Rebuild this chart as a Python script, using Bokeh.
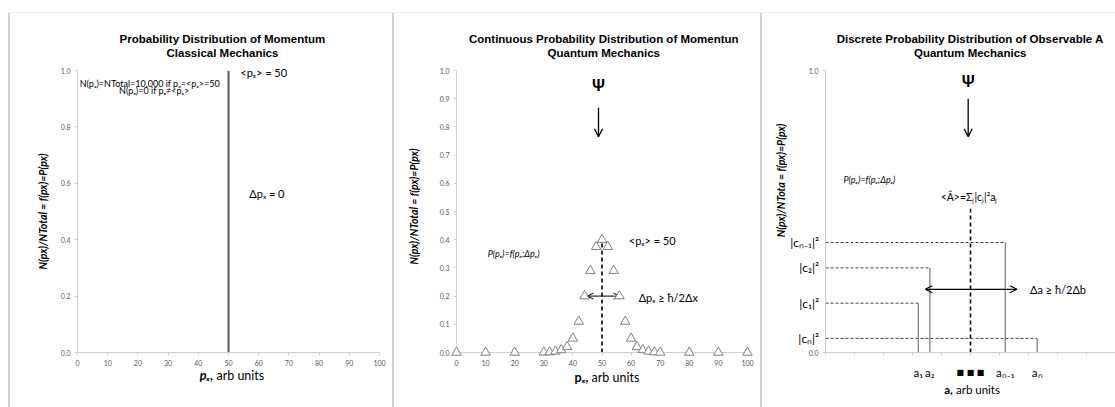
from math import pi
from bokeh.plotting import figure
from bokeh.layouts import row
from bokeh.core.properties import value
from bokeh.models import (Range1d, FixedTicker, PrintfTickFormatter,
                          Arrow, OpenHead, ColumnDataSource)
from bokeh.embed import file_html
from bokeh.resources import INLINE

# ---------------- data ----------------
# Panel 1: classical
p1_x_ticks = [0, 10, 20, 30, 40, 50, 60, 70, 80, 90, 100]
p1_y_ticks = [0.0, 0.2, 0.4, 0.6, 0.8, 1.0]
classical_px = [50]
classical_prob = [1.0]

# Panel 2: continuous quantum distribution
p2_x_ticks = [0, 10, 20, 30, 40, 50, 60, 70, 80, 90, 100]
p2_y_ticks = [0.0, 0.1, 0.2, 0.3, 0.4, 0.5, 0.6, 0.7, 0.8, 0.9, 1.0]
quantum_px = [0, 10, 20, 30, 32, 34, 36, 38, 40, 42, 44, 46, 48, 50,
              52, 54, 56, 58, 60, 62, 64, 66, 68, 70, 80, 90, 100]
quantum_prob = [0, 0, 0, 0.0005, 0.0015, 0.004, 0.009, 0.02, 0.05, 0.11, 0.20, 0.29, 0.375, 0.40,
                0.375, 0.29, 0.20, 0.11, 0.05, 0.02, 0.009, 0.004, 0.0015, 0.0005, 0, 0, 0]
mean_px = 50

# Panel 3: discrete observable
p3_x_ticks = [0, 10, 20, 30, 40, 50, 60, 70, 80, 90, 100]
p3_y_ticks = [0.0, 1.0]
a_labels = ["a₁", "a₂", "aₙ₋₁", "aₙ"]
a_values = [32, 36, 62, 73]
c_labels = ["|c₁|²", "|c₂|²", "|cₙ₋₁|²", "|cₙ|²"]
c_sq = [0.175, 0.30, 0.39, 0.05]
mean_a = 50
mean_a_height = 0.51

# ---------------- styling helpers ----------------
H = 407
TOP, BOTTOM = 70, 55
FONT = "Lato"
TFONT = "Liberation Sans"
TICK_COLOR = "#595959"
AXIS_COLOR = "#d0d0d0"


def make_fig(width, left, right, left_line_x):
    p = figure(width=width, height=H, x_range=Range1d(0, 100), y_range=Range1d(0, 1.0),
               output_backend="svg", toolbar_location=None, title=None,
               min_border_left=left, min_border_right=right,
               min_border_top=TOP, min_border_bottom=BOTTOM)
    p.border_fill_color = None
    p.background_fill_color = None
    p.outline_line_color = None
    p.styles = {
        "background": f"linear-gradient(#ececec, #ececec) {left_line_x}px 12px / 100% 1px no-repeat, "
                      f"linear-gradient(#d2d2d2, #d2d2d2) {left_line_x}px 12px / 2px 100% no-repeat, white"
    }
    p.grid.visible = False
    return p


def style_axes(p):
    for ax in p.axis:
        ax.axis_line_color = AXIS_COLOR
        ax.major_tick_line_color = AXIS_COLOR
        ax.major_tick_in = 0
        ax.major_tick_out = 3
        ax.minor_tick_line_color = None
        ax.major_label_text_font = FONT
        ax.major_label_text_font_size = "7px"
        ax.major_label_text_color = TICK_COLOR
        ax.major_label_standoff = 4


def txt(p, x, y, text, size="11px", style="normal", align="left", font=FONT,
        angle=0, color="#000000"):
    # text glyph at overlay level so it may sit outside the frame
    p.text(x=[x], y=[y], text=[text], text_font=value(font), text_font_size=value(size),
           text_font_style=style, text_align=align, text_baseline="middle", angle=angle,
           text_color=color, level="overlay")


def titles(p, x, l1, l2):
    txt(p, x, 1.112, l1, size="11.5px", style="bold", align="center", font=TFONT)
    txt(p, x, 1.062, l2, size="11.5px", style="bold", align="center", font=TFONT)


YLABEL = "N(px)/NTotal = f(px)=P(px)"

# ---------------- panel 1 ----------------
p1 = make_fig(392, 77, 13, 8)
p1.xaxis.ticker = FixedTicker(ticks=p1_x_ticks)
p1.yaxis.ticker = FixedTicker(ticks=p1_y_ticks)
p1.yaxis.formatter = PrintfTickFormatter(format="%.1f")
style_axes(p1)
p1.segment(x0=classical_px, y0=[0], x1=classical_px, y1=classical_prob,
           line_color="#595959", line_width=2)
titles(p1, 48, "Probability Distribution of Momentum", "Classical Mechanics")
txt(p1, 53.9, 0.993, "<pₓ> = 50", size="11px")
txt(p1, 24.3, 0.954, "N(pₓ)=NTotal=10,000  if pₓ=<pₓ>=50", size="9px", align="center")
txt(p1, 25.8, 0.928, "N(pₓ)=0  if pₓ≠<pₓ>", size="9px", align="center")
txt(p1, 56.9, 0.564, "Δpₓ = 0", size="11px")
txt(p1, -11.3, 0.5, YLABEL, size="10.5px", style="bold italic", align="center", angle=pi / 2)
txt(p1, 44.9, -0.082, "pₓ,", size="12.5px", style="bold italic", align="right")
txt(p1, 46.0, -0.082, "arb units", size="12.5px")

# ---------------- panel 2 ----------------
p2 = make_fig(368, 64, 13, 0)
p2.xaxis.ticker = FixedTicker(ticks=p2_x_ticks)
p2.yaxis.ticker = FixedTicker(ticks=p2_y_ticks)
p2.yaxis.formatter = PrintfTickFormatter(format="%.1f")
style_axes(p2)
p2.segment(x0=[mean_px], y0=[0], x1=[mean_px], y1=[0.41], line_color="#000000",
           line_width=1.6, line_dash="4 3")
p2.scatter(quantum_px, quantum_prob, marker="triangle", size=9.5, fill_color="white",
           line_color="#808080", line_width=1, level="overlay")
titles(p2, 50.6, "Continuous Probability Distribution of Momentun", "Quantum Mechanics")
txt(p2, 48.8, 0.947, "Ψ", size="16px", style="bold", align="center", font=TFONT)
p2.add_layout(Arrow(x_start=48.8, y_start=0.868, x_end=48.8, y_end=0.765,
                    end=OpenHead(size=8, line_width=1.3), line_width=1.3))
txt(p2, 59.2, 0.397, "<pₓ> = 50", size="11px")
txt(p2, 10.7, 0.351, "P(pₓ)=f(pₓ;Δpₓ)", size="9px", style="italic")
txt(p2, 62.6, 0.195, "Δpₓ ≥ ħ/2Δx", size="11px")
p2.add_layout(Arrow(x_start=45, y_start=0.2, x_end=56, y_end=0.2,
                    start=OpenHead(size=6, line_width=1), end=OpenHead(size=6, line_width=1),
                    line_width=1))
txt(p2, -14.5, 0.518, YLABEL, size="10.5px", style="bold italic", align="center", angle=pi / 2)
txt(p2, 45.3, -0.088, "pₓ,", size="12.5px", style="bold", align="right")
txt(p2, 46.4, -0.088, "arb units", size="12.5px")

# ---------------- panel 3 ----------------
p3 = make_fig(355, 65, 0, 0)
p3.xaxis.ticker = FixedTicker(ticks=p3_x_ticks)
p3.yaxis.ticker = FixedTicker(ticks=p3_y_ticks)
p3.yaxis.formatter = PrintfTickFormatter(format="%.1f")
style_axes(p3)
p3.xaxis.major_label_text_color = None
src3 = ColumnDataSource(dict(a=a_values, c=c_sq, zero=[0] * len(a_values)))
p3.segment(x0="zero", y0="c", x1="a", y1="c", source=src3, line_color="#404040",
           line_width=1, line_dash="3 2")
p3.segment(x0="a", y0="zero", x1="a", y1="c", source=src3, line_color="#808080",
           line_width=1.3)
p3.segment(x0=[mean_a], y0=[0], x1=[mean_a], y1=[mean_a_height], line_color="#000000",
           line_width=1.6, line_dash="4 3")
titles(p3, 49.9, "Discrete Probability Distribution of Observable A", "Quantum Mechanics")
txt(p3, 49.2, 0.962, "Ψ", size="16px", style="bold", align="center", font=TFONT)
p3.add_layout(Arrow(x_start=49.2, y_start=0.90, x_end=49.2, y_end=0.765,
                    end=OpenHead(size=8, line_width=1.3), line_width=1.3))
txt(p3, 6.2, 0.614, "P(pₓ)=f(pₓ;Δpₓ)", size="9px", style="italic")
txt(p3, 49.5, 0.55, "<Â>=Σⱼ|cⱼ|²aⱼ", size="10.5px", align="center")
txt(p3, 70.5, 0.224, "Δa ≥ ħ/2Δb", size="11px")
p3.add_layout(Arrow(x_start=34.4, y_start=0.224, x_end=66, y_end=0.224,
                    start=OpenHead(size=7, line_width=1.2), end=OpenHead(size=7, line_width=1.2),
                    line_width=1.2))
p3.text(x=[-2.2] * len(c_sq), y=c_sq, text=c_labels, text_font=value(FONT),
        text_font_size=value("12px"), text_align="right", text_baseline="middle",
        level="overlay")
p3.text(x=a_values, y=[-0.07] * len(a_values), text=a_labels, text_font=value(FONT),
        text_font_size=value("11.5px"), text_align="center", text_baseline="middle",
        level="overlay")
txt(p3, mean_a, -0.07, "■ ■ ■", size="8px", align="center", font="DejaVu Sans")
txt(p3, -15.5, 0.61, "N(px)/NTota = f(px)=P(px)", size="10.5px", style="bold italic",
    align="center", angle=pi / 2)
txt(p3, 43.9, -0.13, "a,", size="11.5px", style="bold", align="right")
txt(p3, 45.0, -0.13, "arb units", size="11.5px")

layout = row(p1, p2, p3, spacing=0)
open("out.html", "w").write(file_html(layout, INLINE))
